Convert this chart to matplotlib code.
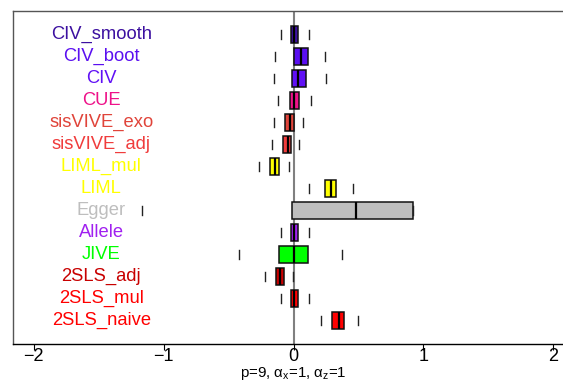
import matplotlib
matplotlib.use("Agg")
import matplotlib.pyplot as plt

plt.rcParams['font.family'] = ['Liberation Sans', 'DejaVu Sans']
plt.rcParams['mathtext.fontset'] = 'custom'
plt.rcParams['mathtext.rm'] = 'Liberation Sans'
plt.rcParams['mathtext.it'] = 'Liberation Sans'

# bottom to top
methods = ["2SLS_naive", "2SLS_mul", "2SLS_adj", "JIVE", "Allele", "Egger",
           "LIML", "LIML_mul", "sisVIVE_adj", "sisVIVE_exo", "CUE", "CIV",
           "CIV_boot", "CIV_smooth"]
colors = ["#ff0000", "#ff0000", "#c80000", "#00ff00", "#a020f0", "#bebebe",
          "#ffff00", "#ffff00", "#f03c3c", "#e0443a", "#ee1289", "#6010f5",
          "#5a0ff0", "#3c10a0"]
whislo = [0.211, -0.097, -0.216, -0.423, -0.097, -1.17,
          0.118, -0.262, -0.166, -0.151, -0.118, -0.151, -0.141, -0.097]
q1 = [0.300, -0.023, -0.133, -0.115, -0.023, -0.008,
      0.239, -0.179, -0.082, -0.069, -0.028, -0.010, 0.000, -0.023]
med = [0.349, 0.003, -0.102, 0.003, 0.005, 0.485,
       0.290, -0.146, -0.046, -0.028, 0.003, 0.034, 0.057, 0.005]
q3 = [0.388, 0.036, -0.077, 0.111, 0.036, 0.924,
      0.326, -0.115, -0.020, 0.000, 0.042, 0.100, 0.111, 0.036]
whishi = [0.500, 0.116, -0.005, 0.370, 0.118, 0.924,
          0.457, -0.033, 0.042, 0.075, 0.134, 0.249, 0.244, 0.116]
xticks = [-2, -1, 0, 1, 2]
xlabel = r"p=9, $\mathregular{\alpha_x}$=1, $\mathregular{\alpha_z}$=1"

W, H = 563, 387
fig = plt.figure(figsize=(W / 100, H / 100), dpi=100)
ax = fig.add_axes([13 / W, (H - 344) / H, (574 - 13) / W, (344 - 11) / H])

ax.axvline(0, color="#808080", lw=1.5, zorder=1)

stats = []
for i in range(len(methods)):
    stats.append(dict(label=methods[i], whislo=whislo[i], q1=q1[i], med=med[i],
                      q3=q3[i], whishi=whishi[i], fliers=[]))
pos = list(range(1, len(methods) + 1))
bp = ax.bxp(stats, positions=pos, widths=0.8, orientation='horizontal',
            patch_artist=True, showfliers=False,
            boxprops=dict(edgecolor="#111111", linewidth=1.1),
            medianprops=dict(color="#000000", linewidth=1.6),
            whiskerprops=dict(linestyle="none"),
            capprops=dict(color="#222222", linewidth=1.0),
            manage_ticks=False, zorder=2)
for patch, c in zip(bp['boxes'], colors):
    patch.set_facecolor(c)

for p, m, c in zip(pos, methods, colors):
    ax.text(-1.48, p, m, color=c, ha="center", va="center", fontsize=13.2)

ax.set_xlim(-2.16, 2.16)
ax.set_ylim(0.5 - 0.56, 14.5 + 0.56)
ax.set_yticks([])
ax.set_xticks(xticks)
ax.set_xticklabels(["\u2212" + str(-t) if t < 0 else str(t) for t in xticks])
ax.tick_params(axis="x", length=4, width=0.8, pad=-1, labelsize=13)
for s in ["left", "top", "right"]:
    ax.spines[s].set_color("#555555")
    ax.spines[s].set_linewidth(1.0)
ax.spines["bottom"].set_color("#000000")
ax.spines["bottom"].set_linewidth(1.0)
fig.text(293 / W, 1 - 374 / H, xlabel, ha="center", va="center", fontsize=10.8)

fig.savefig("out.png", dpi=100)
